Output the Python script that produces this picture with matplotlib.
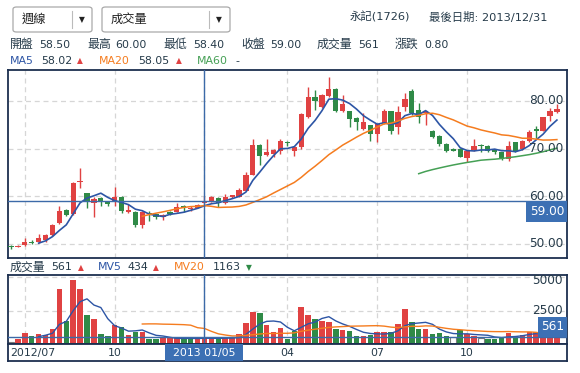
import matplotlib
matplotlib.use('Agg')
import matplotlib.pyplot as plt
import numpy as np
import pandas as pd
from matplotlib.patches import FancyBboxPatch, Rectangle
import matplotlib.transforms as mtransforms

plt.rcParams['font.family'] = ['DejaVu Sans', 'Noto Sans CJK TC']

# ---------------- data ----------------
opens = [49.6, 49.4, 49.7, 50.5, 50.5, 50.9, 51.8, 54.3, 57.2, 56.2,
         62.9, 60.7, 58.5, 59.7, 58.9, 58.9, 59.9, 56.8, 56.8, 54.0,
         56.5, 56.2, 55.6, 56.8, 56.8, 58.0, 57.3, 57.6, 58.5, 59.0,
         59.7, 58.5, 59.8, 59.9, 61.2, 64.5, 70.8, 68.6, 68.8, 69.6,
         71.5, 69.6, 70.4, 76.7, 80.8, 78.8, 81.1, 82.5, 77.8, 77.8,
         76.4, 74.2, 74.9, 73.0, 75.3, 77.9, 74.6, 78.8, 82.1, 78.1,
         77.4, 73.6, 72.7, 71.0, 70.0, 70.0, 68.0, 69.7, 70.8, 70.5,
         69.7, 69.2, 67.8, 71.3, 69.9, 71.7, 74.1, 73.7, 76.9, 77.6]
highs = [49.7, 49.7, 51.2, 50.9, 52.1, 52.1, 54.1, 58.0, 57.4, 63.0,
         65.9, 60.8, 59.9, 59.9, 59.0, 61.9, 60.0, 58.3, 57.0, 56.9,
         56.9, 56.3, 56.2, 57.0, 58.5, 58.1, 58.0, 58.3, 60.0, 60.0,
         59.8, 60.5, 60.3, 61.8, 65.2, 72.0, 70.9, 72.0, 69.9, 72.0,
         71.6, 70.6, 77.5, 83.0, 82.4, 81.5, 85.0, 82.7, 81.3, 78.0,
         76.6, 77.4, 75.0, 75.3, 78.4, 78.0, 78.9, 81.6, 82.5, 79.5,
         78.0, 74.0, 72.9, 71.1, 70.1, 70.2, 69.6, 72.0, 70.9, 70.7,
         69.8, 69.3, 71.7, 71.5, 71.9, 74.0, 74.7, 76.7, 78.5, 79.3]
lows = [49.0, 49.3, 49.6, 50.1, 50.2, 50.5, 51.7, 54.1, 55.8, 56.0,
        61.7, 57.6, 55.6, 58.0, 58.0, 58.0, 56.6, 56.6, 53.6, 53.3,
        54.9, 55.3, 55.0, 56.0, 56.7, 56.8, 57.0, 57.5, 58.4, 58.9,
        57.7, 58.4, 59.7, 59.8, 61.1, 64.4, 66.5, 68.4, 68.3, 68.9,
        70.6, 68.5, 70.0, 76.5, 78.1, 78.5, 80.9, 77.6, 77.6, 74.6,
        73.9, 74.0, 71.6, 71.3, 75.1, 73.0, 73.1, 78.0, 77.0, 75.3,
        75.0, 72.3, 70.5, 69.4, 69.5, 68.2, 67.1, 69.5, 69.3, 69.4,
        68.9, 67.6, 67.5, 69.4, 69.8, 71.5, 72.3, 73.6, 75.9, 77.5]
closes = [49.4, 49.6, 50.5, 50.2, 51.2, 51.8, 54.0, 57.0, 56.1, 62.8,
          63.3, 58.9, 59.5, 58.8, 58.4, 59.9, 57.0, 57.2, 54.0, 56.8,
          56.3, 55.6, 56.1, 56.3, 57.8, 57.5, 57.6, 58.2, 59.0, 59.9,
          58.5, 59.9, 60.2, 61.4, 64.5, 70.8, 68.5, 69.3, 69.7, 71.6,
          71.1, 70.4, 77.3, 80.9, 79.9, 81.3, 82.5, 77.8, 79.4, 76.3,
          75.5, 75.6, 73.1, 75.1, 77.9, 73.6, 77.6, 80.4, 77.4, 76.7,
          77.8, 72.5, 71.0, 69.6, 69.6, 68.3, 69.5, 70.6, 70.6, 69.6,
          69.2, 67.8, 70.6, 69.6, 71.7, 73.5, 73.8, 76.6, 77.8, 78.3]
volumes = [175, 400, 828, 600, 753, 700, 1130, 4150, 1720, 4760,
           4080, 2184, 1840, 780, 600, 1450, 1300, 678, 904, 904,
           376, 376, 430, 430, 481, 376, 376, 376, 561, 430,
           376, 430, 430, 753, 1600, 2385, 2309, 1430, 878, 1230,
           400, 1004, 2736, 2184, 1883, 1757, 1657, 1155, 1054, 979,
           602, 602, 703, 904, 904, 904, 1506, 2636, 1657, 1155,
           1155, 753, 853, 602, 552, 1029, 778, 602, 452, 400,
           400, 552, 853, 602, 678, 878, 878, 878, 700, 600]
# volume bar direction vs previous close: 1 up, -1 down, 0 flat
vol_dir = [0, 1, 1, -1, 1, 1, 1, 1, -1, 1,
           1, -1, 1, -1, -1, 1, -1, 1, -1, 1,
           -1, -1, 1, 1, 1, -1, -1, 1, 1, 1,
           -1, 1, 1, 1, 1, 1, -1, 1, 1, 1,
           -1, -1, 1, 1, -1, 1, 1, -1, 1, -1,
           -1, 1, -1, 1, 1, -1, 1, 1, -1, -1,
           1, -1, -1, -1, 0, -1, 1, 1, 0, -1,
           -1, -1, 1, -1, 1, 1, 1, 1, 1, 1]
month_pos = [2, 15, 28, 40, 53, 66]
month_labels = ['2012/07', '10', '01', '04', '07', '10']
price_ticks = [50, 60, 70, 80]
vol_ticks = [2500, 5000]
cross_idx = 28
cross_label = '2013 01/05'
stock_name = '永記(1726)'
last_date = '2013/12/31'
period_label = '週線'
indicator_label = '成交量'

# ---------------- style ----------------
W, H = 580, 373
RED = '#e04242'
GREEN = '#2f8a47'
BLUE = '#2d55a5'
ORANGE = '#f57c1f'
MA60C = '#45a055'
CROSS = '#3c6aa8'
BOX = '#3c70b4'
TXT = '#263b4a'
BORDER = '#1c2f4f'
GRID = '#d6d6d6'

def fx(x):
    return x / W

def fy(y):
    return 1 - y / H

fig = plt.figure(figsize=(W / 100, H / 100), dpi=100)
fig.patch.set_facecolor('white')

ax = fig.add_axes([fx(8), fy(258), 559 / W, 188 / H])
axv = fig.add_axes([fx(8), fy(344), 559 / W, 69 / H])
axs = fig.add_axes([fx(8), fy(361), 559 / W, 17 / H])

n = len(closes)
xs = np.arange(n)
o = np.array(opens); c = np.array(closes)
hi = np.array(highs); lo = np.array(lows)
vol = np.array(volumes)

XL = (-0.434, 80.46)
for a in (ax, axv, axs):
    a.set_xlim(*XL)
    a.set_xticks([]); a.set_yticks([])
    for s in a.spines.values():
        s.set_color(BORDER); s.set_linewidth(1.3)
ax.set_ylim(47.06, 86.5)
VTOP = 5165
axv.set_ylim(0, VTOP)
axs.set_ylim(0, 1)

dash = (0, (4, 3))
for p in price_ticks:
    ax.axhline(p, color=GRID, lw=0.9, ls=dash, zorder=0)
for m in month_pos:
    ax.axvline(m, color=GRID, lw=0.9, ls=dash, zorder=0)
    axv.axvline(m, color=GRID, lw=0.9, ls=dash, zorder=0)
for v in vol_ticks:
    axv.axhline(v, color=GRID, lw=0.9, ls=dash, zorder=0)

# candles
ccols = [RED if cc >= oo else GREEN for oo, cc in zip(o, c)]
ax.vlines(xs, lo, hi, colors=ccols, lw=1.0, zorder=2)
ax.bar(xs, np.maximum(np.abs(c - o), 0.18), bottom=np.minimum(o, c),
       width=0.76, color=ccols, zorder=3, linewidth=0)

cs = pd.Series(closes)
ax.plot(xs, cs.rolling(5).mean(), color=BLUE, lw=1.2, zorder=4)
ax.plot(xs, cs.rolling(20).mean(), color=ORANGE, lw=1.1, zorder=4)
ax.plot(xs, cs.rolling(60).mean(), color=MA60C, lw=1.1, zorder=4)

# price labels
trp = mtransforms.blended_transform_factory(ax.transAxes, ax.transData)
for p in price_ticks:
    ax.text((563 - 8) / 559, p, f'{p:.2f}', transform=trp, ha='right', va='center',
            fontsize=8.7, color=TXT, zorder=6)

# crosshair on price
cp = closes[cross_idx]
ax.axvline(cross_idx, color=CROSS, lw=1.0, zorder=5)
ax.axhline(cp, color=CROSS, lw=1.0, zorder=5)
box_h = 21 / 4.767
ax.add_patch(Rectangle(((526 - 8) / 559, cp - box_h), 1 - (526 - 8) / 559, box_h,
                       transform=trp, facecolor=BOX, edgecolor='none', zorder=7, clip_on=False))
ax.text((547 - 8) / 559, cp - box_h / 2, f'{cp:.2f}', transform=trp, ha='center', va='center',
        fontsize=8.7, color='white', zorder=8)

# volume
vcols = {1: RED, -1: GREEN, 0: 'white'}
vfc = [vcols[d] for d in vol_dir]
vec = ['#7a7a7a' if d == 0 else 'none' for d in vol_dir]
axv.bar(xs, vol, width=0.8, color=vfc, edgecolor=vec, linewidth=0.8, zorder=2)
vs = pd.Series(volumes)
axv.plot(xs, vs.rolling(5).mean(), color=BLUE, lw=1.0, zorder=4)
axv.plot(xs, vs.rolling(20).mean(), color=ORANGE, lw=1.0, zorder=4)

trv = mtransforms.blended_transform_factory(axv.transAxes, axv.transData)
vpx = VTOP / 69.0  # volume units per pixel
vol_label_off = {5000: -3.5, 2500: 0.0}  # pixels below the gridline
for v in vol_ticks:
    axv.text((563 - 8) / 559, v + vol_label_off[v] * vpx, f'{v}', transform=trv,
             ha='right', va='center', fontsize=8.7, color=TXT, zorder=9)

cv = volumes[cross_idx]
axv.axvline(cross_idx, color=CROSS, lw=1.0, zorder=5)
axv.axhline(cv, color=CROSS, lw=1.0, zorder=5)
vbox_h = 20 * vpx
axv.add_patch(Rectangle(((538 - 8) / 559, cv), 1 - (538 - 8) / 559, vbox_h,
                        transform=trv, facecolor=BOX, edgecolor='none', zorder=7, clip_on=False))
axv.text((553 - 8) / 559, cv + vbox_h / 2, f'{cv}', transform=trv, ha='center', va='center',
         fontsize=8.7, color='white', zorder=8)

# x labels strip
for pos, lab in zip(month_pos, month_labels):
    if pos == cross_idx:
        continue
    if pos == month_pos[0]:
        axs.text((10 - 8) / 559, 0.45, lab, transform=axs.transAxes, ha='left', va='center',
                 fontsize=7.8, color=TXT)
    else:
        axs.text(pos, 0.45, lab, ha='center', va='center', fontsize=7.8, color=TXT)
axs.add_patch(Rectangle((cross_idx - 39 / 6.91, 0.0), 78 / 6.91, 1.0, facecolor=BOX,
                        edgecolor='none', zorder=3))
axs.text(cross_idx, 0.45, cross_label, ha='center', va='center', fontsize=7.8,
         color='white', zorder=4)

# ---------------- header ----------------
def dropdown(x0, x1, label, div_x):
    fig.patches.append(FancyBboxPatch((fx(x0), fy(32)), fx(x1 - x0), 25 / H,
                                      boxstyle='round,pad=0,rounding_size=0.006',
                                      transform=fig.transFigure, facecolor='white',
                                      edgecolor='#a9a9a9', linewidth=0.9))
    fig.text(fx(x0 + 9), fy(19.5), label, ha='left', va='center', fontsize=8.8, color='#222222')
    fig.add_artist(plt.Line2D([fx(div_x), fx(div_x)], [fy(11), fy(28)], color='#bbbbbb', lw=0.8))
    fig.text(fx(div_x + 9.5), fy(20), '▼', ha='center', va='center', fontsize=5.5, color='#222222')

dropdown(13, 92, period_label, 72)
dropdown(102, 230, indicator_label, 209)

fig.text(fx(350), fy(17), stock_name, ha='left', va='center', fontsize=8.2, color=TXT)
fig.text(fx(429), fy(17), f'最後日期: {last_date}', ha='left', va='center', fontsize=8.2, color=TXT)

prev_close = closes[cross_idx - 1]
line2 = [('開盤', f'{opens[cross_idx]:.2f}', 10, 39),
         ('最高', f'{highs[cross_idx]:.2f}', 87, 115),
         ('最低', f'{lows[cross_idx]:.2f}', 163, 193),
         ('收盤', f'{closes[cross_idx]:.2f}', 241, 270),
         ('成交量', f'{volumes[cross_idx]}', 317, 358),
         ('漲跌', f'{closes[cross_idx] - prev_close:.2f}', 395, 424)]
for lab, val, xl, xv in line2:
    fig.text(fx(xl), fy(44.5), lab, ha='left', va='center', fontsize=8.6, color=TXT)
    fig.text(fx(xv), fy(44.5), val, ha='left', va='center', fontsize=7.9, color=TXT)

ma5_now = cs.rolling(5).mean()[cross_idx]
ma20_now = cs.rolling(20).mean()[cross_idx]
y3 = 61
fig.text(fx(10), fy(y3), 'MA5', ha='left', va='center', fontsize=7.9, color=BLUE)
fig.text(fx(41), fy(y3), f'{ma5_now:.2f}', ha='left', va='center', fontsize=7.9, color=TXT)
fig.text(fx(77), fy(y3), '▲', ha='left', va='center', fontsize=5.5, color=RED)
fig.text(fx(99), fy(y3), 'MA20', ha='left', va='center', fontsize=7.9, color=ORANGE)
fig.text(fx(138), fy(y3), f'{ma20_now:.2f}', ha='left', va='center', fontsize=7.9, color=TXT)
fig.text(fx(176), fy(y3), '▲', ha='left', va='center', fontsize=5.5, color=RED)
fig.text(fx(197), fy(y3), 'MA60', ha='left', va='center', fontsize=7.9, color=MA60C)
fig.text(fx(235), fy(y3), '-', ha='left', va='center', fontsize=7.9, color=TXT)

mv5_now = vs.rolling(5).mean()[cross_idx]
mv20_now = vs.rolling(20).mean()[cross_idx]
yv = 267.5
fig.text(fx(10), fy(yv), '成交量', ha='left', va='center', fontsize=8.6, color=TXT)
fig.text(fx(51), fy(yv), f'{cv}', ha='left', va='center', fontsize=7.9, color=TXT)
fig.text(fx(78), fy(yv), '▲', ha='left', va='center', fontsize=5.5, color=RED)
fig.text(fx(98), fy(yv), 'MV5', ha='left', va='center', fontsize=7.9, color=BLUE)
fig.text(fx(128), fy(yv), f'{mv5_now:.0f}', ha='left', va='center', fontsize=7.9, color=TXT)
fig.text(fx(153), fy(yv), '▲', ha='left', va='center', fontsize=5.5, color=RED)
fig.text(fx(174), fy(yv), 'MV20', ha='left', va='center', fontsize=7.9, color=ORANGE)
fig.text(fx(213), fy(yv), f'{mv20_now:.0f}', ha='left', va='center', fontsize=7.9, color=TXT)
fig.text(fx(246), fy(yv), '▼', ha='left', va='center', fontsize=5.5, color=GREEN)

fig.savefig('out.png', dpi=100, facecolor='white')
